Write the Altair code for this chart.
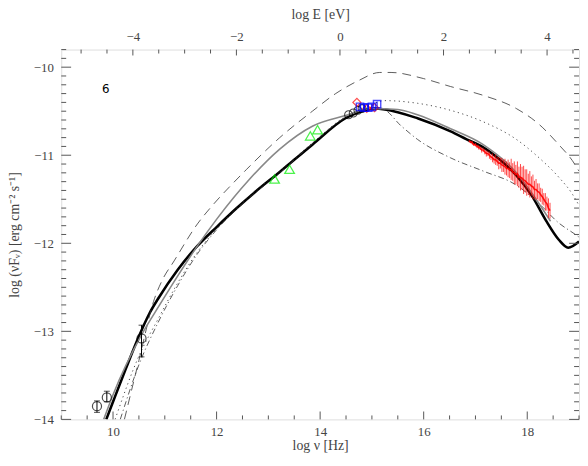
import altair as alt
import pandas as pd

# ---------------- data ----------------
# thick black model
model_nu = [9.87, 10.0, 10.25, 10.49, 10.7, 10.87, 11.25, 11.63, 12.01, 12.39, 12.74, 13.22,
            13.85, 14.49, 14.8, 15.05, 15.25, 15.88, 16.52, 16.83, 17.15, 17.47, 17.79,
            18.10, 18.36, 18.61, 18.79, 19.0]
model_y = [-14.0, -13.8, -13.42, -13.07, -12.80, -12.63, -12.30, -12.03, -11.81, -11.60,
           -11.42, -11.19, -10.88, -10.58, -10.5, -10.47, -10.48, -10.58, -10.73, -10.82,
           -10.91, -11.05, -11.23, -11.47, -11.74, -11.96, -12.05, -11.98]

# grey model
grey_nu = [9.82, 10.0, 10.55, 10.9, 11.25, 11.63, 12.01, 12.64, 13.22, 13.85, 14.49, 15.0,
           15.5, 15.88, 16.52, 17.15, 17.79, 18.1, 18.45]
grey_y = [-14.0, -13.72, -13.04, -12.70, -12.37, -12.03, -11.72, -11.27, -10.93, -10.67,
          -10.55, -10.47, -10.48, -10.54, -10.70, -10.88, -11.20, -11.44, -11.75]

# long dashed model
dash_nu = [10.22, 10.5, 10.8, 10.95, 11.18, 11.63, 11.95, 12.33, 12.58, 13.22, 13.85, 14.3,
           14.75, 15.15, 15.37, 16.0, 16.52, 17.15, 17.79, 18.23, 18.61, 18.87, 19.0]
dash_y = [-14.0, -13.33, -12.63, -12.42, -12.20, -11.78, -11.55, -11.31, -11.16, -10.80,
          -10.50, -10.30, -10.15, -10.06, -10.06, -10.13, -10.22, -10.32, -10.47, -10.65,
          -10.88, -11.06, -11.18]

# dotted model
dot_nu = [10.04, 10.5, 10.87, 11.25, 11.63, 12.01, 12.58, 13.22, 13.85, 14.49, 14.9, 15.25,
          15.88, 16.52, 17.15, 17.79, 18.23, 18.61, 18.87, 19.0]
dot_y = [-14.0, -13.28, -12.86, -12.45, -12.10, -11.83, -11.49, -11.18, -10.86, -10.56,
         -10.45, -10.38, -10.41, -10.49, -10.62, -10.82, -11.03, -11.25, -11.44, -11.57]

# dash-dot model
dd_nu = [10.14, 10.5, 10.87, 11.25, 11.63, 12.01, 12.58, 13.22, 13.85, 14.49, 14.9, 15.2,
         15.57, 15.88, 16.52, 17.15, 17.79, 18.23, 18.61, 18.93, 19.0]
dd_y = [-14.0, -13.38, -12.90, -12.48, -12.12, -11.84, -11.51, -11.2, -10.87, -10.57,
        -10.48, -10.48, -10.67, -10.82, -11.03, -11.18, -11.34, -11.55, -11.77, -11.90,
        -11.93]

# radio points (open circles with error bars)
radio_nu = [9.69, 9.88, 10.55]
radio_y = [-13.85, -13.75, -13.08]
radio_lo = [-13.92, -13.80, -13.29]
radio_hi = [-13.79, -13.68, -12.93]

# optical circles near the peak
opt_nu = [14.55, 14.64, 14.73, 14.81]
opt_y = [-10.54, -10.52, -10.49, -10.47]

# IR triangles
ir_nu = [13.12, 13.41, 13.81, 13.95]
ir_y = [-11.27, -11.16, -10.78, -10.71]

# red diamonds
red_nu = [14.71, 14.9, 15.05]
red_y = [-10.40, -10.47, -10.46]

# blue squares
blue_nu = [14.77, 14.85, 14.93, 15.0, 15.1]
blue_y = [-10.45, -10.46, -10.46, -10.45, -10.42]
blue_err = [0.03, 0.03, 0.03, 0.03, 0.03]

# X-ray spectrum (centre and half error)
x_nu = [16.88, 16.91, 16.94, 16.97, 17.00, 17.03, 17.06, 17.09, 17.12, 17.15, 17.18, 17.21,
        17.24, 17.27, 17.30, 17.33, 17.36, 17.39, 17.42, 17.45, 17.48, 17.51, 17.54, 17.57,
        17.60, 17.63, 17.66, 17.69, 17.72, 17.75, 17.78, 17.81, 17.84, 17.87, 17.90, 17.93,
        17.96, 17.99, 18.02, 18.05, 18.08, 18.11, 18.14, 18.17, 18.20, 18.23, 18.26, 18.29,
        18.32, 18.35, 18.38, 18.41, 18.44]
x_y = [-10.84, -10.85, -10.86, -10.88, -10.88, -10.90, -10.91, -10.92, -10.94, -10.94,
       -10.96, -10.98, -10.98, -11.00, -11.02, -11.03, -11.05, -11.05, -11.07, -11.09,
       -11.09, -11.11, -11.12, -11.13, -11.15, -11.15, -11.17, -11.16, -11.19, -11.20,
       -11.22, -11.21, -11.25, -11.25, -11.26, -11.28, -11.29, -11.31, -11.33, -11.33,
       -11.35, -11.36, -11.39, -11.39, -11.41, -11.42, -11.45, -11.47, -11.50, -11.53,
       -11.55, -11.60, -11.63]
x_err = [0.015, 0.015, 0.02, 0.015, 0.02, 0.02, 0.025, 0.02, 0.03, 0.025, 0.03, 0.035,
         0.03, 0.04, 0.035, 0.05, 0.045, 0.06, 0.05, 0.07, 0.06, 0.08, 0.07, 0.09, 0.08,
         0.10, 0.09, 0.12, 0.10, 0.13, 0.11, 0.14, 0.12, 0.15, 0.13, 0.16, 0.13, 0.15,
         0.12, 0.15, 0.11, 0.14, 0.10, 0.12, 0.09, 0.10, 0.08, 0.09, 0.07, 0.10, 0.08,
         0.11, 0.09]

label_nu = [9.86]
label_y = [-10.25]
label_txt = ["6"]

# ---------------- layout ----------------
W, H = 525, 375
FONT = "Liberation Serif"
AX = "#555555"
TXT = "#444444"
xs = alt.Scale(domain=[9, 19], nice=False, zero=False)
ys = alt.Scale(domain=[-14, -9.8], nice=False, zero=False)


def X(field="nu"):
    return alt.X(f"{field}:Q", scale=xs, axis=None)


def Y(field="y"):
    return alt.Y(f"{field}:Q", scale=ys, axis=None)


def line(nu, y, **kw):
    df = pd.DataFrame({"nu": nu, "y": y, "o": range(len(nu))})
    return alt.Chart(df).mark_line(clip=True, interpolate="monotone", **kw).encode(
        x=X(), y=Y(), order="o:Q")


# main thick line carries bottom and left axes
model_df = pd.DataFrame({"nu": model_nu, "y": model_y, "o": range(len(model_nu))})
model = alt.Chart(model_df).mark_line(clip=True, interpolate="monotone", color="black",
                                      strokeWidth=2.6).encode(
    x=alt.X("nu:Q", scale=xs, axis=alt.Axis(
        title="log ν [Hz]", values=[10, 12, 14, 16, 18], format="d", ticks=False,
        tickSize=0, domain=False, grid=False, labelFont=FONT, labelFontSize=13,
        labelColor=TXT, labelPadding=6, titleFont=FONT, titleFontSize=14,
        titleFontWeight="normal", titleColor=TXT, titlePadding=1)),
    y=alt.Y("y:Q", scale=ys, axis=alt.Axis(
        title="log (νFᵥ) [erg cm⁻² s⁻¹]", values=[-14, -13, -12, -11, -10], format="d",
        ticks=False, tickSize=0, domain=False, grid=False, labelFont=FONT,
        labelFontSize=13, labelColor=TXT, labelPadding=8, titleFont=FONT,
        titleFontSize=14, titleFontWeight="normal", titleColor=TXT, titlePadding=12)),
    order="o:Q",
)

grey = line(grey_nu, grey_y, color="#888888", strokeWidth=1.6)
dashed = line(dash_nu, dash_y, color="#333333", strokeWidth=0.8, strokeDash=[9, 6])
dotted = line(dot_nu, dot_y, color="#333333", strokeWidth=0.9, strokeDash=[1.2, 3.5])
dashdot = line(dd_nu, dd_y, color="#333333", strokeWidth=0.8, strokeDash=[6, 3, 1.2, 3])

# X-ray spectrum
xdf = pd.DataFrame({"nu": x_nu, "y": x_y,
                    "lo": [a - e for a, e in zip(x_y, x_err)],
                    "hi": [a + e for a, e in zip(x_y, x_err)]})
xbars = alt.Chart(xdf).mark_rule(color="#ff0000", strokeWidth=0.9, opacity=0.8).encode(
    x=X(), y=Y("lo"), y2="hi:Q")
xline = alt.Chart(xdf).mark_line(color="#ff0000", strokeWidth=1.6, opacity=0.9).encode(
    x=X(), y=Y())

# radio points
rdf = pd.DataFrame({"nu": radio_nu, "y": radio_y, "lo": radio_lo, "hi": radio_hi})
rbars = alt.Chart(rdf).mark_rule(color="black", strokeWidth=1).encode(x=X(), y=Y("lo"), y2="hi:Q")
rcap_lo = alt.Chart(rdf).mark_tick(color="black", orient="horizontal", size=6, thickness=1).encode(
    x=X(), y=Y("lo"))
rcap_hi = alt.Chart(rdf).mark_tick(color="black", orient="horizontal", size=6, thickness=1).encode(
    x=X(), y=Y("hi"))
rpts = alt.Chart(rdf).mark_point(shape="circle", filled=False, color="black",
                                 strokeWidth=1.2, size=85).encode(x=X(), y=Y())

opt = alt.Chart(pd.DataFrame({"nu": opt_nu, "y": opt_y})).mark_point(
    shape="circle", filled=False, color="black", strokeWidth=1.1, size=65).encode(x=X(), y=Y())

ir = alt.Chart(pd.DataFrame({"nu": ir_nu, "y": ir_y})).mark_point(
    shape="triangle-up", filled=False, color="#00ee00", strokeWidth=1.3, size=95).encode(x=X(), y=Y())

red = alt.Chart(pd.DataFrame({"nu": red_nu, "y": red_y})).mark_point(
    shape="diamond", filled=False, color="red", strokeWidth=1.2, size=65).encode(x=X(), y=Y())

bdf = pd.DataFrame({"nu": blue_nu, "y": blue_y,
                    "lo": [a - e for a, e in zip(blue_y, blue_err)],
                    "hi": [a + e for a, e in zip(blue_y, blue_err)]})
bbars = alt.Chart(bdf).mark_rule(color="blue", strokeWidth=1).encode(x=X(), y=Y("lo"), y2="hi:Q")
blue = alt.Chart(bdf).mark_point(shape="square", filled=False, color="blue",
                                 strokeWidth=1.4, size=55).encode(x=X(), y=Y())

txt = alt.Chart(pd.DataFrame({"nu": label_nu, "y": label_y, "t": label_txt})).mark_text(
    font="DejaVu Sans", fontSize=12, color="black").encode(x=X(), y=Y(), text="t:N")

# ---------------- inward ticks ----------------
xt_major = [10, 12, 14, 16, 18]
xt_minor = [9 + 0.5 * i for i in range(21) if (9 + 0.5 * i) not in xt_major]
E_major = [-4, -2, 0, 2, 4]
E_all = [-5 + 0.5 * i for i in range(20)]
E_minor = [e for e in E_all if e not in E_major]
E_OFF = 14.383
yt_major = [-14, -13, -12, -11, -10]
yt_minor = [round(-14 + 0.1 * i, 2) for i in range(43)
            if abs((-14 + 0.1 * i) - round(-14 + 0.1 * i)) > 1e-6]


def xticks(vals, y0, y1):
    return alt.Chart(pd.DataFrame({"nu": vals})).mark_rule(color=AX, strokeWidth=1).encode(
        x=X(), y=alt.value(y0), y2=alt.value(y1))


def yticks(vals, x0, x1):
    return alt.Chart(pd.DataFrame({"y": vals})).mark_rule(color=AX, strokeWidth=1).encode(
        y=Y(), x=alt.value(x0), x2=alt.value(x1))


tb_major = xticks(xt_major, H, H - 8)
tb_minor = xticks(xt_minor, H, H - 4)
tt_minor = xticks([e + E_OFF for e in E_minor], 0, 4)
tl_major = yticks(yt_major, 0, 10)
tl_minor = yticks(yt_minor, 0, 5)
tr_major = yticks(yt_major, W, W - 10)
tr_minor = yticks(yt_minor, W, W - 5)

# top axis (log E) carried by the major top ticks
top = alt.Chart(pd.DataFrame({"nu": [e + E_OFF for e in E_major]})).mark_rule(
    color=AX, strokeWidth=1).encode(
    x=alt.X("nu:Q", scale=xs, axis=alt.Axis(
        orient="top", title="log E [eV]", values=[e + E_OFF for e in E_major],
        labelExpr="format(round(datum.value - 14.383), 'd')", ticks=False, tickSize=0,
        domain=False, grid=False, labelFont=FONT, labelFontSize=13, labelColor=TXT,
        labelPadding=6, titleFont=FONT, titleFontSize=14, titleFontWeight="normal",
        titleColor=TXT, titlePadding=10)),
    y=alt.value(0), y2=alt.value(6))

chart = alt.layer(
    model, top, dashed, dotted, dashdot, grey, xbars, xline,
    tb_major, tb_minor, tt_minor, tl_major, tl_minor, tr_major, tr_minor,
    rbars, rcap_lo, rcap_hi, rpts, opt, ir, red, bbars, blue, txt,
).resolve_axis(x="independent", y="independent").properties(
    width=W, height=H, autosize=alt.AutoSizeParams(type="none"),
    padding={"left": 54, "top": 39, "right": 1, "bottom": 36},
).configure_view(stroke=AX, strokeWidth=1).configure(background="white")

chart.save("out.html", embed_options={"renderer": "svg", "actions": False})
